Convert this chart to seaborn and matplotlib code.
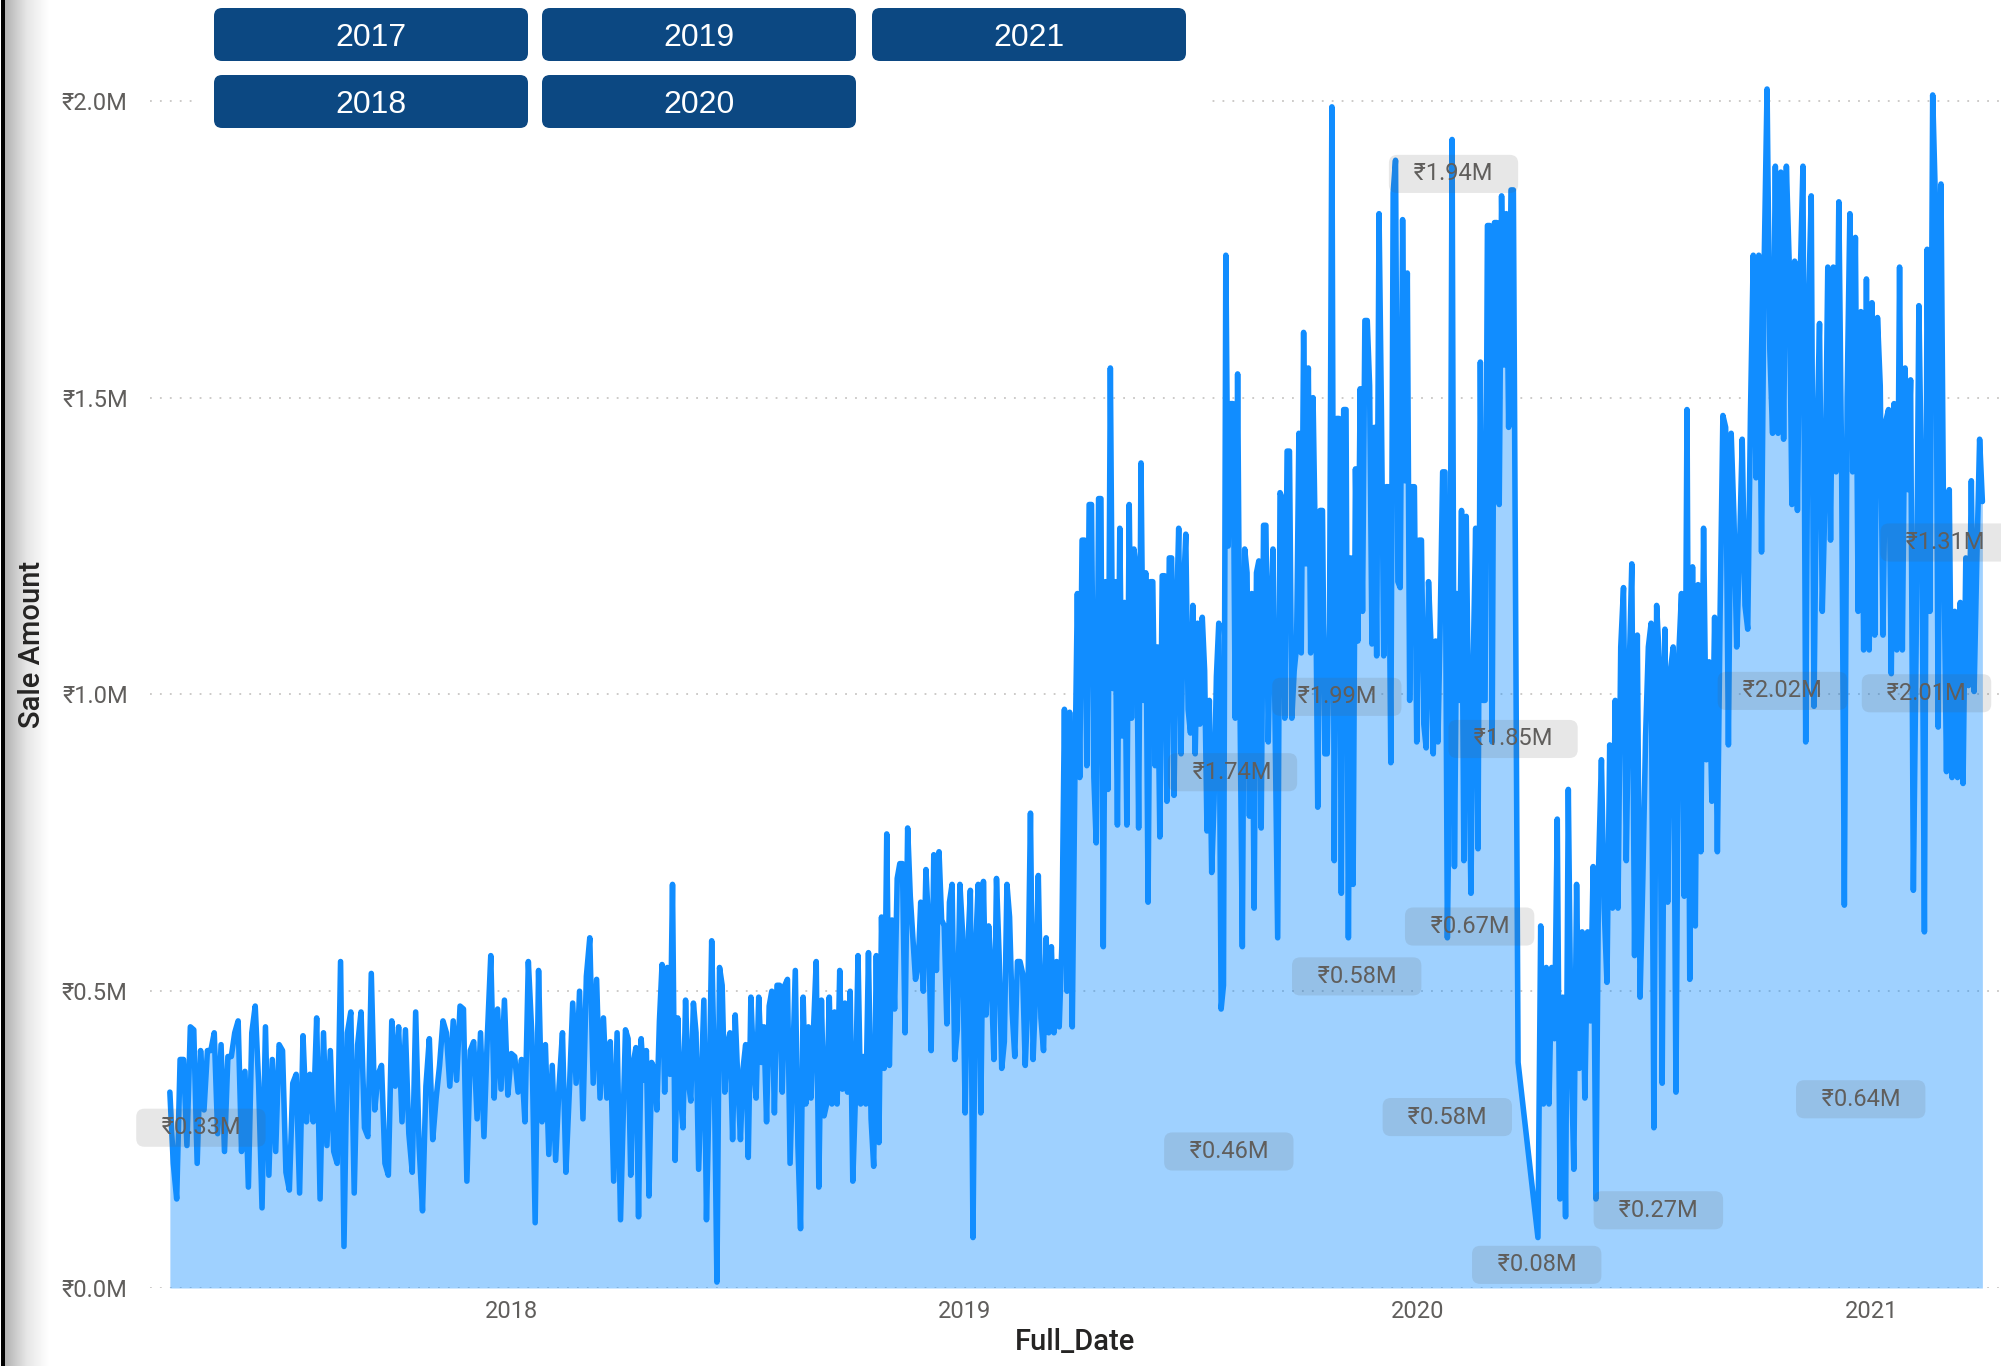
import numpy as np
import pandas as pd
import matplotlib.pyplot as plt
import matplotlib.dates as mdates
from matplotlib.patches import FancyBboxPatch, Rectangle
from matplotlib.transforms import IdentityTransform
from matplotlib.colors import LinearSegmentedColormap
import seaborn as sns

# Sale amount (in ₹ millions), one list per financial year
sales_fy2017 = [0.33, 0.21, 0.15, 0.385, 0.385, 0.24, 0.44, 0.435, 0.21, 0.40, 0.30, 0.40, 0.40, 0.43, 0.26,
                0.41, 0.23, 0.39, 0.39, 0.43, 0.45, 0.23, 0.365, 0.17, 0.43, 0.475, 0.345, 0.135, 0.44, 0.19,
                0.385, 0.23, 0.41, 0.40, 0.195, 0.165, 0.345, 0.36, 0.16, 0.425, 0.28, 0.36, 0.28, 0.455, 0.15,
                0.43, 0.24, 0.40, 0.23, 0.21, 0.55, 0.07, 0.43, 0.465, 0.16, 0.41, 0.465, 0.27, 0.255, 0.53,
                0.30, 0.36, 0.375, 0.21, 0.19, 0.45, 0.34, 0.44, 0.28, 0.435, 0.26, 0.195, 0.465, 0.24, 0.13,
                0.34, 0.42, 0.25, 0.32, 0.375, 0.45, 0.43, 0.34, 0.45, 0.35, 0.475, 0.47, 0.18, 0.40, 0.415,
                0.285, 0.43, 0.255, 0.425, 0.56, 0.32, 0.47, 0.335, 0.485, 0.325, 0.395, 0.39, 0.33, 0.385, 0.28,
                0.55, 0.43, 0.11, 0.535, 0.28, 0.41, 0.225, 0.375, 0.215, 0.34, 0.43, 0.195, 0.33, 0.48, 0.345,
                0.50, 0.285, 0.525, 0.59, 0.345, 0.52, 0.32, 0.455, 0.32, 0.415, 0.18, 0.43, 0.115]

sales_fy2018 = [0.435, 0.42, 0.19, 0.38, 0.405, 0.12, 0.42, 0.35, 0.40, 0.155, 0.38, 0.37, 0.30, 0.45, 0.545,
                0.33, 0.54, 0.36, 0.68, 0.215, 0.455, 0.33, 0.27, 0.485, 0.35, 0.315, 0.48, 0.43, 0.20, 0.34,
                0.485, 0.115, 0.33, 0.585, 0.36, 0.01, 0.54, 0.51, 0.33, 0.41, 0.43, 0.25, 0.46, 0.35, 0.25,
                0.37, 0.41, 0.22, 0.49, 0.375, 0.32, 0.49, 0.38, 0.44, 0.28, 0.475, 0.50, 0.295, 0.51, 0.51,
                0.33, 0.51, 0.52, 0.21, 0.37, 0.535, 0.24, 0.10, 0.49, 0.31, 0.44, 0.32, 0.44, 0.55, 0.17,
                0.485, 0.29, 0.31, 0.49, 0.31, 0.465, 0.31, 0.535, 0.335, 0.48, 0.33, 0.50, 0.18, 0.32, 0.56,
                0.31, 0.39, 0.31, 0.565, 0.285, 0.205, 0.56, 0.245, 0.625, 0.37, 0.765, 0.375, 0.62, 0.47, 0.69,
                0.715, 0.715, 0.43, 0.775, 0.66, 0.59, 0.52, 0.54, 0.65, 0.50, 0.705, 0.61, 0.40, 0.73, 0.535,
                0.735, 0.62, 0.61, 0.445, 0.65, 0.68, 0.385, 0.435, 0.68, 0.60, 0.295, 0.57, 0.67, 0.085, 0.57,
                0.68, 0.295, 0.685, 0.46, 0.61, 0.525, 0.385, 0.69, 0.56, 0.37, 0.415, 0.68, 0.625, 0.465, 0.39,
                0.55, 0.55, 0.53, 0.375, 0.485, 0.80, 0.385, 0.50, 0.695, 0.455, 0.40, 0.59, 0.43, 0.575, 0.43,
                0.55, 0.44, 0.575, 0.975, 0.50, 0.97, 0.44, 0.86]

# stops just before the lockdown gap in late March 2020
sales_fy2019 = [1.17, 0.86, 1.26, 1.26, 0.88, 1.32, 1.32, 0.86, 0.75, 1.33, 1.33, 0.575, 1.19, 0.84, 1.55,
                1.01, 1.19, 0.78, 1.28, 0.93, 1.155, 0.78, 1.32, 0.96, 1.245, 1.21, 0.775, 1.39, 0.99, 1.205,
                0.65, 1.19, 1.19, 0.88, 1.08, 0.76, 1.20, 1.20, 0.82, 1.23, 1.23, 0.83, 1.12, 1.28, 0.90,
                1.17, 1.27, 0.975, 0.935, 1.15, 0.90, 1.12, 0.95, 1.13, 1.04, 0.77, 0.99, 0.70, 0.82, 1.03,
                1.12, 0.47, 0.51, 1.74, 1.25, 1.49, 1.49, 0.96, 1.54, 0.99, 0.575, 1.245, 1.205, 0.795, 1.17,
                0.64, 1.205, 1.225, 0.775, 1.285, 1.285, 0.92, 1.13, 1.245, 0.92, 0.59, 1.34, 1.33, 0.96, 1.41,
                1.41, 0.96, 1.04, 1.08, 1.44, 1.07, 1.61, 1.22, 1.55, 1.07, 1.50, 1.245, 0.81, 1.31, 1.31,
                0.90, 0.90, 1.12, 1.99, 0.72, 1.465, 1.465, 0.665, 1.48, 1.48, 0.59, 1.23, 0.68, 1.38, 1.09,
                1.515, 1.14, 1.63, 1.63, 1.52, 1.085, 1.45, 1.065, 1.81, 1.48, 1.065, 1.35, 1.35, 0.885, 1.845,
                1.90, 1.19, 1.18, 1.80, 1.36, 1.71, 0.99, 1.35, 1.35, 0.92, 1.26, 1.26, 0.95, 0.91, 1.19,
                1.09, 0.90, 1.09, 0.92, 1.13, 1.375, 1.375, 0.59, 0.92, 1.935, 0.71, 1.17, 0.99, 1.31, 0.72,
                1.30, 0.95, 0.665, 1.06, 1.28, 0.74, 1.56, 0.99, 0.99, 1.79, 1.79, 0.92, 1.795, 1.795, 1.32,
                1.84, 1.555, 1.81, 1.45, 1.85, 1.85, 1.12, 0.38]

sales_fy2020 = [0.085, 0.61, 0.31, 0.54, 0.31, 0.54, 0.42, 0.79, 0.15, 0.49, 0.12, 0.84, 0.40, 0.20, 0.68,
                0.37, 0.60, 0.32, 0.60, 0.45, 0.71, 0.15, 0.715, 0.89, 0.64, 0.515, 0.915, 0.64, 0.99, 0.64,
                1.08, 1.18, 0.72, 1.03, 1.22, 0.56, 1.10, 0.49, 0.69, 0.93, 1.08, 1.12, 0.27, 1.15, 1.055,
                0.345, 1.11, 0.65, 1.04, 1.08, 0.33, 1.065, 1.17, 0.66, 1.48, 0.52, 1.215, 0.61, 1.185, 0.735,
                1.28, 0.89, 1.055, 0.82, 1.13, 0.735, 1.14, 1.47, 1.45, 0.915, 1.44, 1.30, 1.08, 1.24, 1.43,
                1.15, 1.11, 1.475, 1.74, 1.365, 1.74, 1.24, 1.74, 2.02, 1.58, 1.44, 1.89, 1.44, 1.88, 1.43,
                1.89, 1.73, 1.32, 1.73, 1.31, 1.70, 1.89, 0.92, 1.65, 1.84, 0.98, 1.41, 1.625, 1.14, 1.33,
                1.72, 1.26, 1.72, 1.375, 1.83, 1.39, 0.645, 1.50, 1.81, 1.375, 1.77, 1.14, 1.645, 1.075, 1.70,
                1.075, 1.66, 1.10, 1.635, 1.52, 1.10, 1.46, 1.48, 1.035, 1.49, 1.075, 1.72, 1.075, 1.55, 1.345,
                1.53, 0.67, 1.085, 1.655, 1.335, 0.60, 1.75, 1.14, 2.01, 1.83, 0.945, 1.86, 1.25, 0.87, 1.345,
                0.86, 1.14, 0.86, 1.155, 0.85, 1.23, 1.015, 1.36, 1.005, 1.23, 1.43, 1.325]

period_bounds = [("2017-04-01", "2018-03-30"), ("2018-04-03", "2019-03-31"),
                 ("2019-04-02", "2020-03-22"), ("2020-04-07", "2021-03-31")]

slicer_years = ["2017", "2018", "2019", "2020", "2021"]

# data labels shown on the visual: text, date, height (₹M)
data_labels = [("₹0.33M", "2017-04-26", 0.27), ("₹1.94M", "2020-01-30", 1.877),
               ("₹1.99M", "2019-10-28", 0.996), ("₹1.74M", "2019-08-05", 0.869),
               ("₹1.85M", "2020-03-18", 0.925), ("₹0.67M", "2020-02-12", 0.609),
               ("₹0.58M", "2019-11-13", 0.525), ("₹0.58M", "2020-01-25", 0.288),
               ("₹0.46M", "2019-08-02", 0.230), ("₹0.08M", "2020-04-06", 0.039),
               ("₹0.27M", "2020-07-13", 0.131), ("₹0.64M", "2020-12-23", 0.318),
               ("₹2.02M", "2020-10-21", 1.006), ("₹2.01M", "2021-02-14", 1.002),
               ("₹1.31M", "2021-03-01", 1.256)]

frames = []
for (start, end), vals in zip(period_bounds, [sales_fy2017, sales_fy2018, sales_fy2019, sales_fy2020]):
    frames.append(pd.DataFrame({"Full_Date": pd.date_range(start, end, periods=len(vals)),
                                "Sale Amount": vals}))
df = pd.concat(frames, ignore_index=True)

sns.set_style("white")
plt.rcParams["font.family"] = ["Roboto", "DejaVu Sans"]

W, H = 2001, 1366
fig = plt.figure(figsize=(W / 100, H / 100), dpi=100)

# canvas edge shadow on the left (kept behind the chart so the y title stays visible)
shade = fig.add_axes([4 / W, 0, 44 / W, 1], zorder=-1)
shade.imshow(np.linspace(0, 1, 64).reshape(1, -1), aspect="auto", extent=[0, 1, 0, 1],
             cmap=LinearSegmentedColormap.from_list("edge", ["#B0B0B0", "#E6E6E6", "#FFFFFF"]))
shade.axis("off")

ax = fig.add_axes([150 / W, (H - 1288) / H, (W - 150) / W, 1288 / H])
ax.patch.set_alpha(0)

ax.fill_between(df["Full_Date"], df["Sale Amount"], 0, color="#118DFF", alpha=0.4, lw=0, zorder=1)
sns.lineplot(data=df, x="Full_Date", y="Sale Amount", ax=ax, color="#118DFF", lw=4.0,
             solid_joinstyle="round", solid_capstyle="round", zorder=3)

ax.set_xlim(pd.Timestamp("2017-03-16"), pd.Timestamp("2021-04-15"))
ax.set_ylim(0, 2.17)
ax.set_yticks([0, 0.5, 1.0, 1.5, 2.0])
ax.set_yticklabels([f"₹{v:.1f}M" for v in [0, 0.5, 1.0, 1.5, 2.0]])
ax.set_xticks(pd.to_datetime(["2018-01-01", "2019-01-01", "2020-01-01", "2021-01-01"]))
ax.xaxis.set_major_formatter(mdates.DateFormatter("%Y"))
ax.yaxis.grid(True, color="#C8C6C4", linestyle=(0, (1, 4.5)), linewidth=1.3)
ax.xaxis.grid(False)
ax.set_axisbelow(True)
sns.despine(ax=ax, left=True, bottom=True)
ax.tick_params(axis="both", length=0, labelsize=17, labelcolor="#605E5C")
ax.tick_params(axis="x", pad=9)
ax.tick_params(axis="y", pad=16)

ax.set_xlabel("Full_Date", fontsize=21, color="#252423", fontweight="medium")
ax.set_ylabel("Sale Amount", fontsize=21, color="#252423", fontweight="medium")
ax.xaxis.set_label_coords(0.5, -0.031)
ax.yaxis.set_label_coords(-0.056, 0.5)

for text, day, value in data_labels:
    ax.text(pd.Timestamp(day), value, f"   {text}   ", ha="center", va="center", fontsize=17,
            color="#605E5C", zorder=5, clip_on=False,
            bbox=dict(boxstyle="round,pad=0.32,rounding_size=0.35", fc=(0.35, 0.35, 0.35, 0.14), ec="none"))

fig.add_artist(Rectangle((1, 0), 3.5, H, transform=IdentityTransform(), fc="black", ec="none", zorder=6))

# year slicer
fig.add_artist(Rectangle((195, H - 140), 1010, 140, transform=IdentityTransform(), fc="white", ec="none", zorder=4))
button_slots = [(214, 8), (214, 75), (542, 8), (542, 75), (872, 8)]
for year, (left, top) in zip(slicer_years, button_slots):
    bw, bh = 314, 53
    fig.add_artist(FancyBboxPatch((left, H - top - bh), bw, bh, boxstyle="round,pad=0,rounding_size=8",
                                  transform=IdentityTransform(), fc="#0C4882", ec="none", zorder=5))
    fig.text((left + bw / 2) / W, 1 - (top + bh / 2) / H, year, color="white", fontsize=23,
             family=["Liberation Sans", "DejaVu Sans"], ha="center", va="center_baseline", zorder=6)

fig.savefig("out.png", dpi=100)
plt.close(fig)
